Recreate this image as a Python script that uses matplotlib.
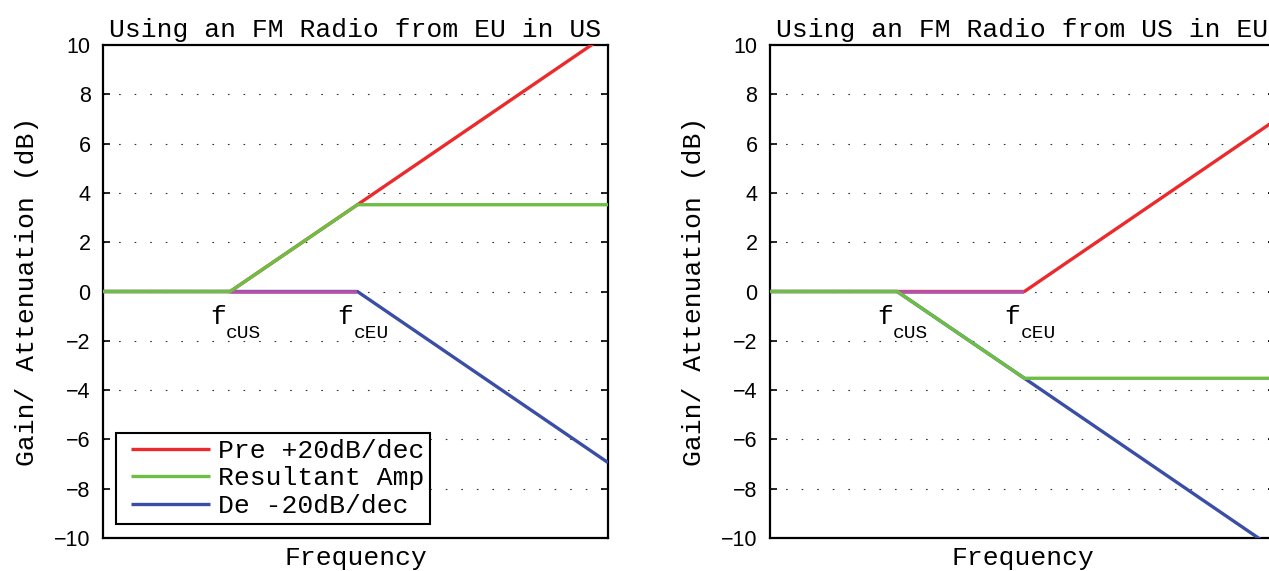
import matplotlib
matplotlib.use("Agg")
import matplotlib.pyplot as plt
from matplotlib.legend_handler import HandlerLine2D

# Corner frequencies (Hz) of the 75 us (US) and 50 us (EU) emphasis networks
f_us = 2122.0
f_eu = 3183.0
f_lo = 1415.0
f_hi = 7074.0

freq = [f_lo, f_us, f_eu, f_hi]

# EU radio in US: US pre-emphasis, EU de-emphasis (dB)
pre_eu_in_us = [0.0, 0.0, 3.52, 10.46]
res_eu_in_us = [0.0, 0.0, 3.52, 3.52]
de_eu_in_us = [0.0, 0.0, 0.0, -6.94]

# US radio in EU: EU pre-emphasis, US de-emphasis (dB)
pre_us_in_eu = [0.0, 0.0, 0.0, 6.94]
res_us_in_eu = [0.0, 0.0, -3.52, -3.52]
de_us_in_eu = [0.0, 0.0, -3.52, -10.46]

# Flat band between the two corners where both curves sit at 0 dB
flat_freq = [f_us, f_eu]
flat_gain = [0.0, 0.0]

titles = ["Using an FM Radio from EU in US", "Using an FM Radio from US in EU"]
legend_labels = ["Pre +20dB/dec", "Resultant Amp", "De -20dB/dec"]
yticks = list(range(-10, 11, 2))

RED = "#EC2A2B"
GREEN = "#6CBE45"
BLUE = "#3A4EA5"
PURPLE = "#B452A8"

MONO = "Liberation Mono"
SANS = "Liberation Sans"

plt.rcParams["font.family"] = SANS

W, H = 1269, 571
fig = plt.figure(figsize=(W / 100, H / 100), dpi=100)

ax_w = 505 / W
ax_h = 493 / H
ax_b = (H - 538) / H
axes = [fig.add_axes([103 / W, ax_b, ax_w, ax_h]),
        fig.add_axes([770 / W, ax_b, ax_w, ax_h])]

data = [(pre_eu_in_us, res_eu_in_us, de_eu_in_us),
        (pre_us_in_eu, res_us_in_eu, de_us_in_eu)]

lw = 2.4
for ax, title, (pre, res, de) in zip(axes, titles, data):
    ax.set_xscale("log")
    h_pre, = ax.plot(freq, pre, color=RED, lw=lw, solid_capstyle="butt", zorder=3)
    h_de, = ax.plot(freq, de, color=BLUE, lw=lw, solid_capstyle="butt", zorder=4)
    ax.plot(flat_freq, flat_gain, color=PURPLE, lw=lw + 0.2,
            solid_capstyle="butt", zorder=5)
    h_res, = ax.plot(freq, res, color=GREEN, lw=lw, solid_capstyle="butt", zorder=6)

    ax.set_xlim(f_lo, f_hi)
    ax.set_ylim(-10, 10)
    ax.set_yticks(yticks)
    ax.set_yticklabels([str(v).replace("-", "\u2212") for v in yticks])
    ax.set_xticks([])
    ax.xaxis.set_minor_locator(matplotlib.ticker.NullLocator())
    ax.tick_params(axis="y", direction="in", length=5, width=1.2, labelsize=15.5,
                   left=True, right=True, pad=9)

    for y in yticks[1:-1]:
        ax.axhline(y, color="#333333", lw=0.8, linestyle=(0, (1.5, 12.5)), zorder=1)

    for sp in ax.spines.values():
        sp.set_linewidth(1.6)

    ax.set_title(title, fontfamily=MONO, fontsize=19, pad=6)
    ax.set_xlabel("Frequency", fontfamily=MONO, fontsize=19, labelpad=6)
    ax.set_ylabel("Gain/ Attenuation (dB)", fontfamily=MONO, fontsize=19, labelpad=11)

    # corner-frequency labels
    for fc, sub in [(f_us, "cUS"), (f_eu, "cEU")]:
        ax.annotate("f", xy=(fc, 0), xytext=(-12, -32), textcoords="offset pixels",
                    ha="center", va="baseline", fontfamily=MONO, fontsize=19)
        ax.annotate(sub, xy=(fc, 0), xytext=(-4, -46), textcoords="offset pixels",
                    ha="left", va="baseline", fontfamily=MONO, fontsize=14)

handler = HandlerLine2D(xpad=0.34)
leg = axes[0].legend([h_pre, h_res, h_de], legend_labels,
                     loc="lower left", bbox_to_anchor=(0.026, 0.028),
                     prop={"family": MONO, "size": 19}, frameon=True,
                     fancybox=False, edgecolor="black", framealpha=1,
                     handlelength=3.33, handletextpad=0.30, labelspacing=0.14,
                     borderpad=0.23, borderaxespad=0.0,
                     handler_map={h_pre: handler, h_res: handler, h_de: handler})
leg.get_frame().set_linewidth(1.5)
leg.set_zorder(10)

fig.savefig("out.png", dpi=100)
